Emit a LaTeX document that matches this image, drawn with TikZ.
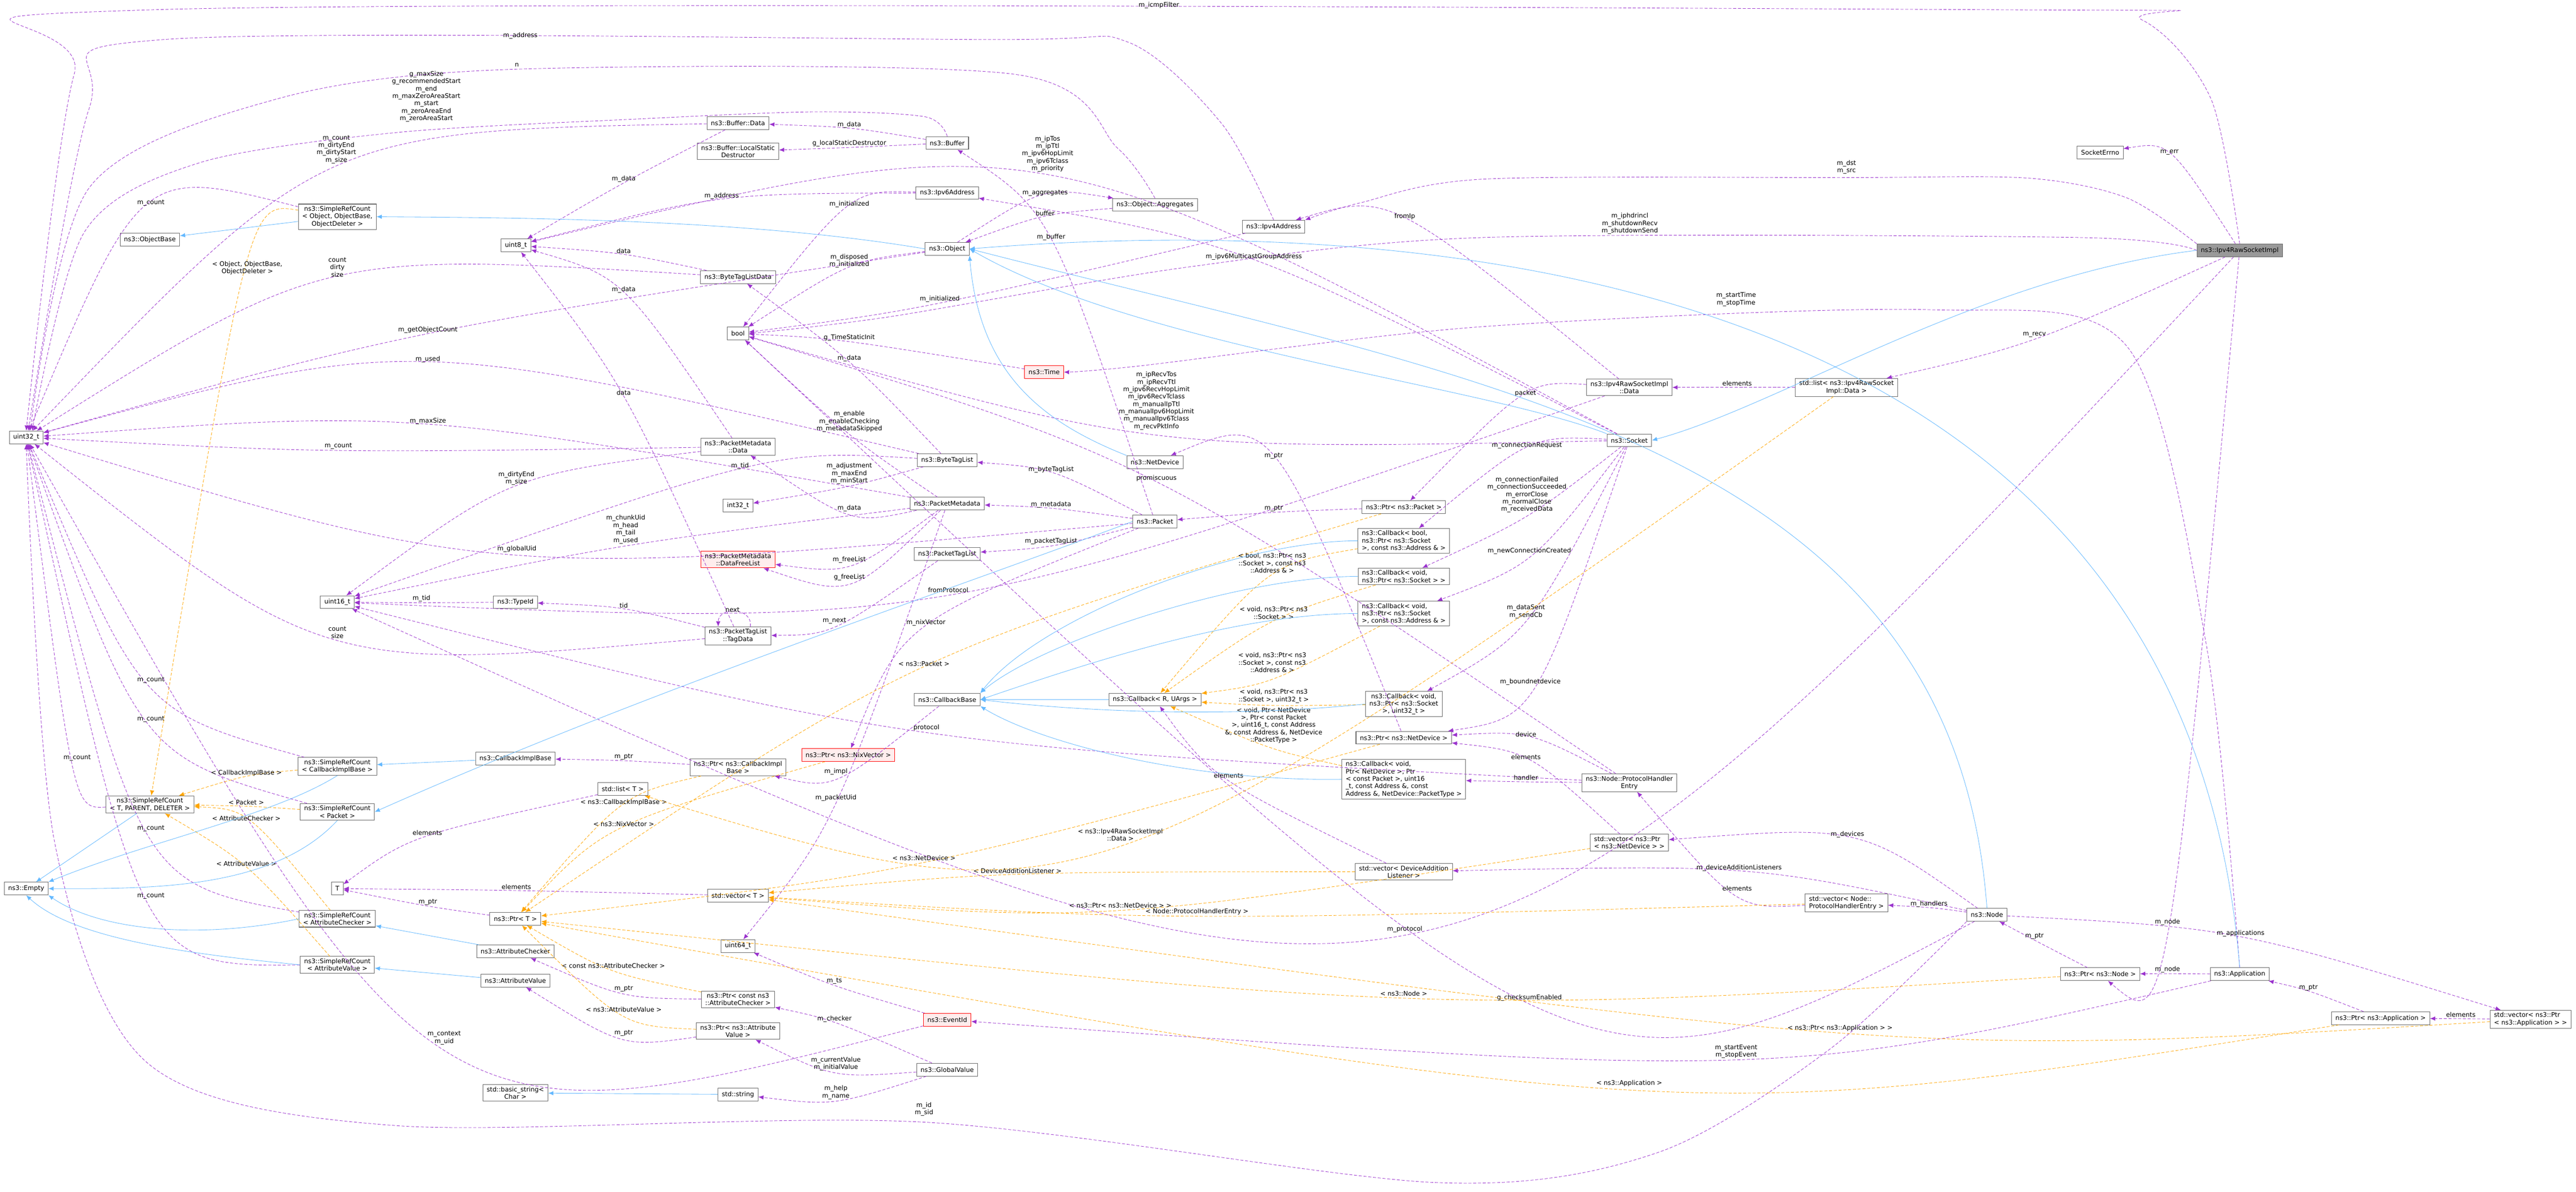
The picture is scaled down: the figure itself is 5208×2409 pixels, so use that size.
\documentclass[tikz,border=0pt]{standalone}
\usepackage{fontspec}
\setmainfont{DejaVu Sans}
\usetikzlibrary{calc,arrows.meta}
\newcommand\fs{\fontsize{7.3}{8.5}\selectfont}
\definecolor{cref}{HTML}{9A32CD}
\definecolor{ctpl}{HTML}{FFA500}
\definecolor{cinh}{HTML}{63B8FF}
\definecolor{cbox}{HTML}{666666}
\tikzset{
 box/.style={draw=cbox, fill=white, font=\fs, inner xsep=4.5pt, inner ysep=2.5pt, minimum height=14.7pt, align=center, line width=0.6pt},
 redbox/.style={box, draw=red, fill=red!7},
 curbox/.style={box, fill=black!40},
 lbl/.style={font=\fs, align=center, inner sep=1pt},
 ref/.style={draw=cref, dash pattern=on 3.5pt off 2pt, line width=0.5pt, -{Latex[length=6pt,width=5pt]}, cref},
 tpl/.style={draw=ctpl, dash pattern=on 3.5pt off 2pt, line width=0.5pt, -{Latex[length=6pt,width=5pt]}, ctpl},
 inh/.style={draw=cinh, line width=0.5pt, -{Latex[length=6pt,width=5pt]}, cinh},
}
\newcommand\E[7][]{%
 \draw[#2,#1] (#3) .. controls ($($(#3)!0.5!(#4)$)!1.333!($(#6)+(0,#7)$)$) .. (#4);
 \node[lbl] at (#6) {#5};}
\begin{document}
\begin{tikzpicture}[x=0.02cm,y=-0.02cm]
\useasboundingbox (0,0) rectangle (5208,2409);
% nodes
\node[box] (u32) at (53,884) {uint32\_t};
\node[box] (srcobj) at (682,438) {ns3::SimpleRefCount\\< Object, ObjectBase,\\ObjectDeleter >};
\node[box] (objbase) at (303,484) {ns3::ObjectBase};
\node[box] (u8) at (1043,496) {uint8\_t};
\node[box] (u16) at (682,1217) {uint16\_t};
\node[box] (typeid) at (1042,1217) {ns3::TypeId};
\node[box] (cbimpl) at (1042,1533) {ns3::CallbackImplBase};
\node[box] (srccb) at (682,1549) {ns3::SimpleRefCount\\< CallbackImplBase >};
\node[box] (srctpd) at (303,1626) {ns3::SimpleRefCount\\< T, PARENT, DELETER >};
\node[box] (srcpkt) at (682,1641) {ns3::SimpleRefCount\\< Packet >};
\node[box] (listT) at (1259,1595) {std::list< T >};
\node[box] (empty) at (53,1796) {ns3::Empty};
\node[box] (T) at (682,1796) {T};
\node[box] (ptrT) at (1042,1857) {ns3::Ptr< T >};
\node[box] (srcac) at (682,1857) {ns3::SimpleRefCount\\< AttributeChecker >};
\node[box] (attrchk) at (1042,1923) {ns3::AttributeChecker};
\node[box] (srcav) at (682,1950) {ns3::SimpleRefCount\\< AttributeValue >};
\node[box] (attrval) at (1042,1982) {ns3::AttributeValue};
\node[box] (basicstr) at (1042,2209) {std::basic\_string<\\Char >};
\node[box] (bufdata) at (1492,249) {ns3::Buffer::Data};
\node[box] (buflsd) at (1492,306) {ns3::Buffer::LocalStatic\\Destructor};
\node[box] (buffer) at (1915,289) {ns3::Buffer};
\node[box] (ipv6) at (1915,390) {ns3::Ipv6Address};
\node[box] (aggr) at (2335,414) {ns3::Object::Aggregates};
\node[box] (object) at (1915,503) {ns3::Object};
\node[box] (ipv4) at (2575,458) {ns3::Ipv4Address};
\node[box] (btld) at (1492,560) {ns3::ByteTagListData};
\node[box] (bool) at (1492,674) {bool};
\node[redbox] (time) at (2111,752) {ns3::Time};
\node[box] (pmdata) at (1492,903) {ns3::PacketMetadata\\::Data};
\node[box] (netdev) at (2335,934) {ns3::NetDevice};
\node[box] (btl) at (1915,930) {ns3::ByteTagList};
\node[box] (i32) at (1492,1022) {int32\_t};
\node[box] (pm) at (1915,1018) {ns3::PacketMetadata};
\node[box] (packet) at (2335,1054) {ns3::Packet};
\node[redbox] (freelist) at (1492,1131) {ns3::PacketMetadata\\::DataFreeList};
\node[box] (ptl) at (1915,1120) {ns3::PacketTagList};
\node[box] (tagdata) at (1492,1285) {ns3::PacketTagList\\::TagData};
\node[box] (cbbase) at (1915,1414) {ns3::CallbackBase};
\node[box] (cbR) at (2335,1414) {ns3::Callback< R, UArgs >};
\node[redbox] (ptrnix) at (1715,1526) {ns3::Ptr< ns3::NixVector >};
\node[box] (ptrcbimpl) at (1492,1551) {ns3::Ptr< ns3::CallbackImpl\\Base >};
\node[box] (vecT) at (1492,1810) {std::vector< T >};
\node[box] (u64) at (1492,1912) {uint64\_t};
\node[box] (ptrcac) at (1492,2020) {ns3::Ptr< const ns3\\::AttributeChecker >};
\node[redbox] (eventid) at (1915,2061) {ns3::EventId};
\node[box] (ptrav) at (1492,2084) {ns3::Ptr< ns3::Attribute\\Value >};
\node[box] (gv) at (1915,2162) {ns3::GlobalValue};
\node[box] (string) at (1492,2212) {std::string};
\node[box] (rawdata) at (3294,783) {ns3::Ipv4RawSocketImpl\\::Data};
\node[box] (listdata) at (3733,783) {std::list< ns3::Ipv4RawSocket\\Impl::Data >};
\node[box] (socket) at (3294,890) {ns3::Socket};
\node[box] (ptrpkt) at (2838,1025) {ns3::Ptr< ns3::Packet >};
\node[box,align=left] (cbbool) at (2838,1093) {ns3::Callback< bool,\\ ns3::Ptr< ns3::Socket\\ >, const ns3::Address \& >};
\node[box,align=left] (cbsock) at (2838,1165) {ns3::Callback< void,\\ ns3::Ptr< ns3::Socket > >};
\node[box,align=left] (cbaddr) at (2838,1240) {ns3::Callback< void,\\ ns3::Ptr< ns3::Socket\\ >, const ns3::Address \& >};
\node[box] (cbu32) at (2838,1423) {ns3::Callback< void,\\ ns3::Ptr< ns3::Socket\\ >, uint32\_t >};
\node[box] (ptrnd) at (2838,1491) {ns3::Ptr< ns3::NetDevice >};
\node[box,align=left] (cbnd) at (2838,1575) {ns3::Callback< void,\\ Ptr< NetDevice >, Ptr\\< const Packet >, uint16\\\_t, const Address \&, const\\ Address \&, NetDevice::PacketType >};
\node[box] (phe) at (3294,1582) {ns3::Node::ProtocolHandler\\Entry};
\node[box,align=left] (vecnd) at (3294,1703) {std::vector< ns3::Ptr\\< ns3::NetDevice > >};
\node[box] (vecdal) at (2838,1762) {std::vector< DeviceAddition\\Listener >};
\node[box,align=left] (vecphe) at (3733,1825) {std::vector< Node::\\ProtocolHandlerEntry >};
\node[box] (sockerr) at (4246,308) {SocketErrno};
\node[curbox] (raw) at (4528,506) {ns3::Ipv4RawSocketImpl};
\node[box] (nnode) at (4017,1849) {ns3::Node};
\node[box] (ptrnode) at (4246,1969) {ns3::Ptr< ns3::Node >};
\node[box] (app) at (4528,1969) {ns3::Application};
\node[box] (ptrapp) at (4813,2058) {ns3::Ptr< ns3::Application >};
\node[box,align=left] (vecapp) at (5116,2060) {std::vector< ns3::Ptr\\< ns3::Application > >};

% long purple edges
\draw[ref] plot[smooth,tension=0.5] coordinates {(raw.north) (4470,200) (4330,40) (4100,20) (300,20) (150,150) (u32.north)};
\node[lbl] (l1) at (2343,11) {m\_icmpFilter};
\draw[ref] plot[smooth,tension=0.5] coordinates {(ipv4.north) (2470,250) (2280,85) (2000,80) (330,80) (180,220) ($(u32.north)+(4,0)$)};
\node[lbl] (l2) at (1052,72) {m\_address};
\draw[ref] plot[smooth,tension=0.5] coordinates {(aggr.north) (2260,300) (2050,150) (1040,140) (560,200) (180,380) ($(u32.north)+(8,0)$)};
\node[lbl] (l3) at (1045,131) {n};
\draw[ref] plot[smooth,tension=0.5] coordinates {(buffer.north) (1870,236) (1650,226) (1300,240) (800,268) (400,330) (170,470) ($(u32.north)+(12,0)$)};
\node[lbl] (l4) at (862,195) {g\_maxSize\\g\_recommendedStart\\m\_end\\m\_maxZeroAreaStart\\m\_start\\m\_zeroAreaEnd\\m\_zeroAreaStart};
\draw[ref] plot[smooth,tension=0.5] coordinates {(nnode.south west) (3700,2120) (3350,2330) (2900,2390) (1868,2268) (800,2275) (300,2150) (110,1700) (u32.south)};
\node[lbl] (l5) at (1868,2242) {m\_id\\m\_sid};
\draw[ref] plot[smooth,tension=0.5] coordinates {(raw.north west) (4300,400) (4100,360) (3733,359) (3000,362) (2750,410) (ipv4.north east)};
\node[lbl] (l6) at (3733,338) {m\_dst\\m\_src};
\draw[ref] plot[smooth,tension=0.5] coordinates {(raw.west) (4200,480) (3000,480) (2400,540) (1800,640) (bool.east)};
\node[lbl] (l7) at (3295,452) {m\_iphdrincl\\m\_shutdownRecv\\m\_shutdownSend};
\draw[ref] plot[smooth,tension=0.5] coordinates {(app.north) (4460,1300) (4300,700) (3900,626) (3000,660) (2300,740) (time.east)};
\node[lbl] (l8) at (3510,605) {m\_startTime\\m\_stopTime};

% purple with macro
\E{ref}{bufdata}{u32}{m\_count\\m\_dirtyEnd\\m\_dirtyStart\\m\_size}{680,302}{38}
\E{ref}{srcobj}{u32}{m\_count}{305,410}{8}
\E{ref}{btld}{u32}{count\\dirty\\size}{682,540}{22}
\E{ref}{object}{u32}{m\_getObjectCount}{865,667}{8}
\E{ref}{btl}{u32}{m\_used}{865,726}{8}
\E{ref}{pm}{u32}{m\_maxSize}{865,851}{8}
\E{ref}{pmdata}{u32}{m\_count}{684,902}{8}
\E{ref}{packet}{u32}{m\_globalUid}{1045,1110}{10}
\E{ref}{pmdata}{u16}{m\_dirtyEnd\\m\_size}{1044,967}{18}
\E{ref}{pm}{u16}{m\_chunkUid\\m\_head\\m\_tail\\m\_used}{1265,1070}{34}
\E{ref}{typeid}{u16}{m\_tid}{852,1210}{8}
\E{ref}{tagdata}{typeid}{tid}{1261,1224}{8}
\E{ref}{tagdata}{u32}{count\\size}{682,1278}{12}
\E{ref}{srccb}{u32}{m\_count}{305,1375}{8}
\E{ref}{srcpkt}{u32}{m\_count}{305,1454}{8}
\E{ref}{srctpd}{u32}{m\_count}{156,1532}{8}
\E{ref}{srcac}{u32}{m\_count}{305,1675}{8}
\E{ref}{srcav}{u32}{m\_count}{305,1811}{8}
\E{ref}{listT}{T}{elements}{864,1683}{8}
\E{ref}{vecT}{T}{elements}{1044,1792}{8}
\E{ref}{ptrT}{T}{m\_ptr}{865,1823}{8}
\E{ref}{eventid}{u32}{m\_context\\m\_uid}{898,2098}{18}
\E{ref}{bufdata}{u8}{m\_data}{1261,362}{8}
\E{ref}{ipv6}{u8}{m\_address}{1459,396}{8}
\E{ref}{btld}{u8}{data}{1261,507}{8}
\E{ref}{pmdata}{u8}{m\_data}{1261,586}{8}
\E{ref}{tagdata}{u8}{data}{1261,794}{8}
\E{ref}{socket}{u8}{m\_ipTos\\m\_ipTtl\\m\_ipv6HopLimit\\m\_ipv6Tclass\\m\_priority}{2118,311}{45}
\E{ref}{buffer}{bufdata}{m\_data}{1717,252}{8}
\E{ref}{buffer}{buflsd}{g\_localStaticDestructor}{1717,290}{8}
\E{ref}{ipv6}{bool}{m\_initialized}{1717,413}{8}
\E{ref}{object}{aggr}{m\_aggregates}{2113,390}{8}
\E{ref}{aggr}{object}{buffer}{2113,431}{8}
\E{ref}{packet}{buffer}{m\_buffer}{2125,479}{8}
\E{ref}{object}{bool}{m\_disposed\\m\_initialized}{1717,527}{15}
\E{ref}{ipv4}{bool}{m\_initialized}{1900,604}{8}
\E{ref}{socket}{ipv6}{m\_ipv6MulticastGroupAddress}{2535,519}{8}
\E{ref}{time}{bool}{g\_TimeStaticInit}{1717,683}{8}
\E{ref}{btl}{btld}{m\_data}{1717,724}{8}
\E{ref}{pm}{bool}{m\_enable\\m\_enableChecking\\m\_metadataSkipped}{1717,852}{25}
\E{ref}{btl}{i32}{m\_adjustment\\m\_maxEnd\\m\_minStart}{1717,957}{25}
\E{ref}{pm}{pmdata}{m\_data}{1717,1027}{8}
\E{ref}{pm}{freelist}{m\_freeList}{1717,1131}{8}
\E{ref}{pm}{freelist}{g\_freeList}{1717,1167}{8}
\E{ref}{btl}{u16}{m\_tid}{1496,942}{8}
\E{ref}{packet}{btl}{m\_byteTagList}{2125,949}{8}
\E{ref}{packet}{pm}{m\_metadata}{2125,1020}{8}
\E{ref}{packet}{ptl}{m\_packetTagList}{2125,1094}{8}
\E{ref}{rawdata}{u16}{fromProtocol}{1917,1193}{8}
\E{ref}{ptl}{tagdata}{m\_next}{1687,1255}{8}
\draw[ref] ($(tagdata.north)+(25,0)$) .. controls +(5,-40) and +(0,-40) .. ($(tagdata.north)+(-40,0)$);
\node[lbl] (l9) at (1481,1232) {next};
\E{ref}{packet}{ptrnix}{m\_nixVector}{1872,1259}{8}
\E{ref}{cbbase}{ptrcbimpl}{m\_impl}{1690,1560}{8}
\E{ref}{pm}{u64}{m\_packetUid}{1690,1613}{8}
\E{ref}{eventid}{u64}{m\_ts}{1687,1983}{8}
\E{ref}{gv}{ptrcac}{m\_checker}{1687,2060}{8}
\E{ref}{gv}{ptrav}{m\_currentValue\\m\_initialValue}{1690,2150}{15}
\E{ref}{gv}{string}{m\_help\\m\_name}{1690,2208}{15}
\E{ref}{ptrcbimpl}{cbimpl}{m\_ptr}{1261,1530}{8}
\E{ref}{ptrcac}{attrchk}{m\_ptr}{1261,1998}{8}
\E{ref}{ptrav}{attrval}{m\_ptr}{1261,2088}{8}
\E{ref}{phe}{u16}{protocol}{1873,1471}{8}
\E{ref}{raw}{u16}{m\_protocol}{2840,1878}{8}
\E{ref}{nnode}{bool}{g\_checksumEnabled}{3092,2017}{8}
\E{ref}{app}{eventid}{m\_startEvent\\m\_stopEvent}{3510,2125}{15}
\E{ref}{raw}{ptrnode}{m\_node}{4382,1864}{8}
\E{ref}{app}{ptrnode}{m\_node}{4382,1960}{8}
\E{ref}{ptrnode}{nnode}{m\_ptr}{4113,1892}{8}
\E{ref}{ptrapp}{app}{m\_ptr}{4667,1996}{8}
\E{ref}{nnode}{vecapp}{m\_applications}{4530,1887}{8}
\E{ref}{vecapp}{ptrapp}{elements}{4975,2051}{8}
\E{ref}{nnode}{vecnd}{m\_devices}{3735,1687}{8}
\E{ref}{nnode}{vecdal}{m\_deviceAdditionListeners}{3516,1754}{8}
\E{ref}{nnode}{vecphe}{m\_handlers}{3900,1827}{8}
\E{ref}{vecphe}{phe}{elements}{3512,1796}{8}
\E{ref}{vecnd}{ptrnd}{elements}{3085,1530}{8}
\E{ref}{phe}{ptrnd}{device}{3085,1484}{8}
\E{ref}{phe}{cbnd}{handler}{3085,1572}{8}
\E{ref}{socket}{ptrnd}{m\_boundnetdevice}{3094,1378}{8}
\E{ref}{socket}{cbu32}{m\_dataSent\\m\_sendCb}{3085,1236}{15}
\E{ref}{socket}{cbaddr}{m\_newConnectionCreated}{3092,1114}{8}
\E{ref}{socket}{cbsock}{m\_connectionFailed\\m\_connectionSucceeded\\m\_errorClose\\m\_normalClose\\m\_receivedData}{3087,1000}{42}
\E{ref}{socket}{cbbool}{m\_connectionRequest}{3087,900}{8}
\E{ref}{rawdata}{ptrpkt}{packet}{3084,795}{8}
\E{ref}{rawdata}{ipv4}{fromIp}{2840,438}{8}
\E{ref}{raw}{sockerr}{m\_err}{4386,308}{8}
\E{ref}{raw}{listdata}{m\_recv}{4113,676}{8}
\E{ref}{listdata}{rawdata}{elements}{3512,775}{8}
\E{ref}{ptrpkt}{packet}{m\_ptr}{2575,1028}{8}
\E{ref}{ptrnd}{netdev}{m\_ptr}{2575,921}{8}
\E{ref}{phe}{bool}{promiscuous}{2338,967}{8}
\E{ref}{socket}{bool}{m\_ipRecvTos\\m\_ipRecvTtl\\m\_ipv6RecvHopLimit\\m\_ipv6RecvTclass\\m\_manualIpTtl\\m\_manualIpv6HopLimit\\m\_manualIpv6Tclass\\m\_recvPktInfo}{2338,810}{68}
\E{ref}{vecdal}{cbR}{elements}{2484,1568}{8}

% orange
\E{tpl}{srcobj}{srctpd}{< Object, ObjectBase,\\ObjectDeleter >}{500,542}{22}
\E{tpl}{srccb}{srctpd}{< CallbackImplBase >}{498,1563}{8}
\E{tpl}{srcpkt}{srctpd}{< Packet >}{498,1622}{8}
\E{tpl}{srcac}{srctpd}{< AttributeChecker >}{498,1654}{8}
\E{tpl}{srcav}{srctpd}{< AttributeValue >}{498,1746}{8}
\E{tpl}{ptrcbimpl}{ptrT}{< ns3::CallbackImplBase >}{1261,1622}{8}
\E{tpl}{ptrnix}{ptrT}{< ns3::NixVector >}{1261,1665}{8}
\E{tpl}{ptrcac}{ptrT}{< const ns3::AttributeChecker >}{1240,1952}{8}
\E{tpl}{ptrav}{ptrT}{< ns3::AttributeValue >}{1261,2040}{8}
\E{tpl}{ptrpkt}{ptrT}{< ns3::Packet >}{1868,1341}{8}
\E{tpl}{ptrnd}{ptrT}{< ns3::NetDevice >}{1868,1734}{8}
\E{tpl}{ptrnode}{ptrT}{< ns3::Node >}{2838,2008}{8}
\E{tpl}{ptrapp}{ptrT}{< ns3::Application >}{3294,2190}{10}
\E{tpl}{vecdal}{vecT}{< DeviceAdditionListener >}{2057,1760}{8}
\E{tpl}{vecnd}{vecT}{< ns3::Ptr< ns3::NetDevice > >}{2265,1830}{8}
\E{tpl}{vecphe}{vecT}{< Node::ProtocolHandlerEntry >}{2420,1843}{8}
\E{tpl}{vecapp}{vecT}{< ns3::Ptr< ns3::Application > >}{3720,2078}{8}
\E{tpl}{listdata}{listT}{< ns3::Ipv4RawSocketImpl\\::Data >}{2265,1687}{18}
\E{tpl}{cbbool}{cbR}{< bool, ns3::Ptr< ns3\\::Socket >, const ns3\\::Address \& >}{2572,1138}{30}
\E{tpl}{cbsock}{cbR}{< void, ns3::Ptr< ns3\\::Socket > >}{2575,1239}{18}
\E{tpl}{cbaddr}{cbR}{< void, ns3::Ptr< ns3\\::Socket >, const ns3\\::Address \& >}{2572,1339}{30}
\E{tpl}{cbu32}{cbR}{< void, ns3::Ptr< ns3\\::Socket >, uint32\_t >}{2575,1407}{18}
\E{tpl}{cbnd}{cbR}{< void, Ptr< NetDevice\\>, Ptr< const Packet\\>, uint16\_t, const Address\\\&, const Address \&, NetDevice\\::PacketType >}{2575,1466}{45}

% blue inheritance
\draw[inh] (srcobj) -- (objbase);
\draw[inh] (object.west) .. controls (1500,440) and (1000,440) .. (srcobj.east);
\draw[inh] (srctpd) -- (empty);
\draw[inh] (srccb.south) .. controls (550,1650) and (300,1700) .. (empty.north east);
\draw[inh] (srcpkt.south) .. controls (550,1800) and (300,1796) .. (empty.east);
\draw[inh] (srcac.west) .. controls (400,1900) and (200,1880) .. (empty.south east);
\draw[inh] (srcav.west) .. controls (400,1930) and (150,1900) .. (empty.south);
\draw[inh] (cbimpl) -- (srccb);
\draw[inh] (packet.west) .. controls (1900,1200) and (1300,1400) .. (srcpkt.east);
\draw[inh] (attrchk) -- (srcac);
\draw[inh] (attrval) -- (srcav);
\draw[inh] (string) -- (basicstr);
\draw[inh] (socket.north west) .. controls (3000,780) and (2300,700) .. (object.east);
\draw[inh] (netdev.north west) .. controls (2100,850) and (1980,750) .. (object.south east);
\draw[inh] (nnode.north) .. controls (3950,900) and (3000,770) .. (object.east);
\draw[inh] (app.north) .. controls (4420,600) and (3000,420) .. (object.east);
\draw[inh] (raw.west) .. controls (4000,560) and (3600,820) .. (socket.east);
\draw[inh] (cbR) -- (cbbase);
\draw[inh] (cbbool.west) .. controls (2500,1093) and (2100,1250) .. (cbbase.north east);
\draw[inh] (cbsock.west) .. controls (2500,1165) and (2100,1300) .. (cbbase.north east);
\draw[inh] (cbaddr.west) .. controls (2500,1240) and (2200,1340) .. (cbbase.east);
\draw[inh] (cbu32.west) .. controls (2500,1450) and (2200,1440) .. (cbbase.east);
\draw[inh] (cbnd.west) .. controls (2400,1580) and (2100,1500) .. (cbbase.south east);
\end{tikzpicture}
\end{document}
